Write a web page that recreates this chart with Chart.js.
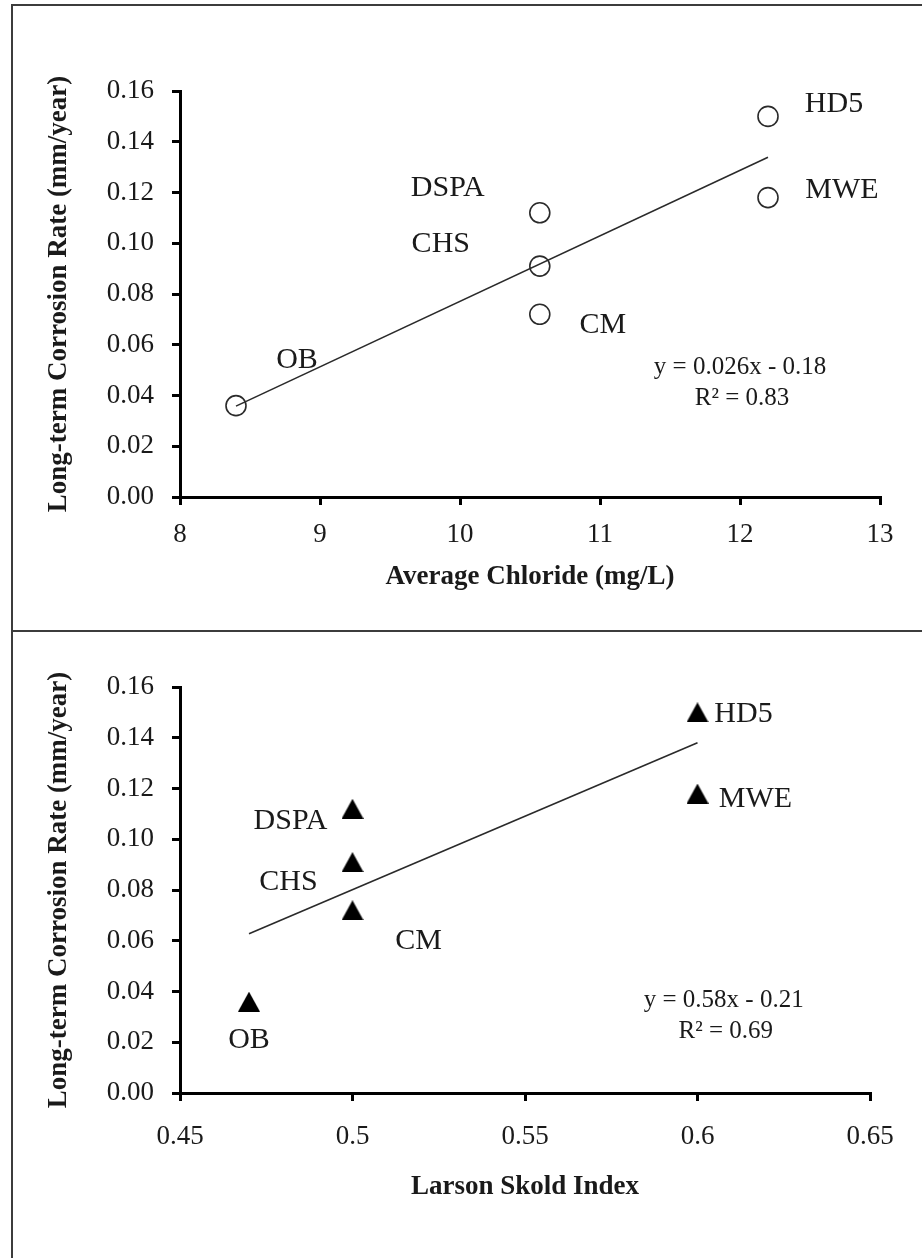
<!DOCTYPE html>
<html>
<head>
<meta charset="utf-8">
<title>Corrosion rate vs chloride and Larson Skold index</title>
<script src="https://cdn.jsdelivr.net/npm/chart.js@4.4.0/dist/chart.umd.min.js"></script>
<style>
    html, body { margin: 0; padding: 0; background: #fff; }
    #page { position: relative; width: 922px; height: 1258px; overflow: hidden; }
    .panel { position: absolute; left: 0; }
    #topPanel { top: 6px; }
    #bottomPanel { top: 632px; }
    .rule { position: absolute; background: #3c3c3c; }
</style>
</head>
<body>
<div id="page">
    <div class="rule" style="left:11px; top:4px; width:911px; height:2px;"></div>
    <div class="rule" style="left:11px; top:4px; width:2px; height:1254px;"></div>
    <div class="rule" style="left:11px; top:630px; width:911px; height:2px;"></div>
    <canvas id="topPanel" class="panel" width="922" height="624"></canvas>
    <canvas id="bottomPanel" class="panel" width="922" height="626"></canvas>
</div>

<script>
// Data
const sites = ['OB', 'DSPA', 'CHS', 'CM', 'HD5', 'MWE'];
const chloride = [8.4, 10.57, 10.57, 10.57, 12.2, 12.2];
const larsonSkold = [0.47, 0.5, 0.5, 0.5, 0.6, 0.6];
const corrosionRate = [0.036, 0.112, 0.091, 0.072, 0.150, 0.118];

// Tick labels
const rateTicks = [0, 0.02, 0.04, 0.06, 0.08, 0.10, 0.12, 0.14, 0.16];
const chlorideTicks = [8, 9, 10, 11, 12, 13];
const larsonTicks = [0.45, 0.5, 0.55, 0.6, 0.65];

// Trendline equations as printed on the figure
const chlorideFitText = ['y = 0.026x - 0.18', 'R\u00B2 = 0.83'];
const larsonFitText = ['y = 0.58x - 0.21', 'R\u00B2 = 0.69'];

// Where each site label sits relative to its marker (pixels)
const chlorideLabelOffsets = [[61, -46], [-92, -25], [-99, -22], [63, 11], [66, -12], [74, -7]];
const larsonLabelOffsets = [[0, 38], [-62, 12], [-64, 20], [66, 31], [46, 2], [58, 6]];

const SERIF = '"Liberation Serif", "Times New Roman", serif';
const INK = '#1a1a1a';

Chart.defaults.font.family = SERIF;
Chart.defaults.color = INK;

// Least squares fit, same as the spreadsheet trendline
function linearFit(xs, ys) {
    const n = xs.length;
    const mx = xs.reduce((a, b) => a + b, 0) / n;
    const my = ys.reduce((a, b) => a + b, 0) / n;
    let sxy = 0, sxx = 0;
    for (let i = 0; i < n; i++) {
        sxy += (xs[i] - mx) * (ys[i] - my);
        sxx += (xs[i] - mx) * (xs[i] - mx);
    }
    const slope = sxy / sxx;
    return { slope: slope, intercept: my - slope * mx };
}

function trendPoints(xs, ys) {
    const fit = linearFit(xs, ys);
    const lo = Math.min(...xs);
    const hi = Math.max(...xs);
    return [
        { x: lo, y: fit.slope * lo + fit.intercept },
        { x: hi, y: fit.slope * hi + fit.intercept }
    ];
}

function fmtTick(v) {
    return String(Number(v.toFixed(2)));
}

// Filled triangle marker centred on the value (the built-in one sits high)
function triangleMarker(w, h) {
    const c = document.createElement('canvas');
    c.width = w;
    c.height = h;
    const g = c.getContext('2d');
    g.fillStyle = '#000';
    g.beginPath();
    g.moveTo(w / 2, 0);
    g.lineTo(w, h);
    g.lineTo(0, h);
    g.closePath();
    g.fill();
    return c;
}

/**
 * Draws site names next to the markers and the fit equation
 */
function makeLabelPlugin(xs, offsets, fitText, eqFrac) {
    return {
        id: 'siteLabels',
        afterDatasetsDraw(chart) {
            const ctx = chart.ctx;
            const xScale = chart.scales.x;
            const yScale = chart.scales.y;
            const area = chart.chartArea;
            ctx.save();
            ctx.fillStyle = INK;
            ctx.textAlign = 'center';
            ctx.textBaseline = 'middle';
            ctx.font = '30px ' + SERIF;
            sites.forEach((name, i) => {
                const px = xScale.getPixelForValue(xs[i]) + offsets[i][0];
                const py = yScale.getPixelForValue(corrosionRate[i]) + offsets[i][1];
                ctx.fillText(name, px, py);
            });
            ctx.font = '25px ' + SERIF;
            const ex = area.left + (area.right - area.left) * eqFrac[0];
            const ey = area.top + (area.bottom - area.top) * eqFrac[1];
            ctx.fillText(fitText[0], ex, ey);
            ctx.fillText(fitText[1], ex + 2, ey + 31);
            ctx.restore();
        }
    };
}

function buildChart(canvasId, cfg) {
    const points = cfg.xs.map((x, i) => ({ x: x, y: corrosionRate[i] }));
    return new Chart(document.getElementById(canvasId), {
        type: 'scatter',
        data: {
            datasets: [{
                label: 'Sites',
                data: points,
                pointStyle: cfg.marker,
                pointRadius: cfg.markerRadius,
                backgroundColor: cfg.markerFill,
                borderColor: '#2a2a2a',
                borderWidth: cfg.markerBorder,
                order: 2
            }, {
                label: 'Linear fit',
                type: 'line',
                data: trendPoints(cfg.xs, corrosionRate),
                borderColor: '#2a2a2a',
                borderWidth: 1.6,
                pointRadius: 0,
                fill: false,
                order: 1
            }]
        },
        options: {
            responsive: false,
            devicePixelRatio: 1,
            animation: false,
            layout: {
                padding: cfg.padding
            },
            plugins: {
                legend: { display: false },
                tooltip: { enabled: false }
            },
            scales: {
                x: {
                    type: 'linear',
                    min: cfg.xTicks[0],
                    max: cfg.xTicks[cfg.xTicks.length - 1],
                    afterBuildTicks: scale => {
                        scale.ticks = cfg.xTicks.map(v => ({ value: v }));
                    },
                    afterFit: scale => { scale.height = cfg.xAxisHeight; },
                    border: { display: true, color: '#000', width: 3 },
                    grid: {
                        drawOnChartArea: false,
                        drawTicks: true,
                        tickLength: 8,
                        lineWidth: 3,
                        color: '#000'
                    },
                    ticks: {
                        padding: cfg.xTickPad,
                        maxRotation: 0,
                        font: { size: 27 },
                        callback: v => fmtTick(v)
                    },
                    title: {
                        display: true,
                        text: cfg.xTitle,
                        font: { size: 27, weight: 'bold' },
                        padding: { bottom: cfg.xTitlePad, top: 0 }
                    }
                },
                y: {
                    type: 'linear',
                    min: 0,
                    max: 0.16,
                    afterBuildTicks: scale => {
                        scale.ticks = rateTicks.map(v => ({ value: v }));
                    },
                    afterFit: scale => { scale.width = 150; },
                    border: { display: true, color: '#000', width: 3 },
                    grid: {
                        drawOnChartArea: false,
                        drawTicks: true,
                        tickLength: 8,
                        lineWidth: 3,
                        color: '#000'
                    },
                    ticks: {
                        padding: 18,
                        font: { size: 27 },
                        callback: v => v.toFixed(2)
                    },
                    title: {
                        display: true,
                        text: 'Long-term Corrosion Rate (mm/year)',
                        font: { size: 27, weight: 'bold' },
                        padding: { top: 13, bottom: 0 }
                    }
                }
            }
        },
        plugins: [makeLabelPlugin(cfg.xs, cfg.offsets, cfg.fitText, cfg.eqFrac)]
    });
}

buildChart('topPanel', {
    xs: chloride,
    xTicks: chlorideTicks,
    xTitle: 'Average Chloride (mg/L)',
    marker: 'circle',
    markerRadius: 10,
    markerFill: 'rgba(255,255,255,0)',
    markerBorder: 1.6,
    padding: { top: 85, left: 30, right: 42, bottom: 0 },
    xAxisHeight: 133,
    xTickPad: 14,
    xTitlePad: 37,
    offsets: chlorideLabelOffsets,
    fitText: chlorideFitText,
    eqFrac: [0.8, 0.68]
});

buildChart('bottomPanel', {
    xs: larsonSkold,
    xTicks: larsonTicks,
    xTitle: 'Larson Skold Index',
    marker: triangleMarker(22, 20),
    markerRadius: 11,
    markerFill: '#000',
    markerBorder: 0,
    padding: { top: 55, left: 30, right: 52, bottom: 0 },
    xAxisHeight: 165,
    xTickPad: 20,
    xTitlePad: 55,
    offsets: larsonLabelOffsets,
    fitText: larsonFitText,
    eqFrac: [0.788, 0.773]
});
</script>
</body>
</html>
